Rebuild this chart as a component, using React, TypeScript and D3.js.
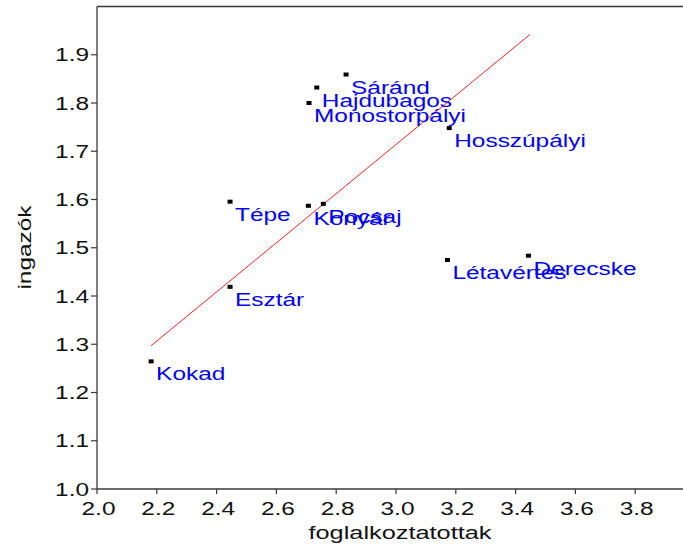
import * as d3 from 'd3';

// settlement names and values (foglalkoztatottak, ingazók)
const names = ["Sáránd", "Hajdubagos", "Monostorpályi", "Hosszúpályi", "Tépe", "Konyár", "Pocsaj", "Esztár", "Kokad", "Létavértes", "Derecske"];
const xValues = [2.833, 2.735, 2.709, 3.178, 2.445, 2.707, 2.757, 2.445, 2.181, 3.172, 3.443];
const yValues = [1.859, 1.832, 1.800, 1.748, 1.5955, 1.587, 1.591, 1.419, 1.2645, 1.4746, 1.4835];

// fitted line end points
const fitX = [2.181, 3.448];
const fitY = [1.297, 1.942];

const xTicks = [2.0, 2.2, 2.4, 2.6, 2.8, 3.0, 3.2, 3.4, 3.6, 3.8];
const yTicks = [1.0, 1.1, 1.2, 1.3, 1.4, 1.5, 1.6, 1.7, 1.8, 1.9];

const W = 683;
const H = 548;
const left = 97;
const top = 6.5;
const bottom = 489;
const font = "'Liberation Sans', Arial, sans-serif";
const fs = 18.5;
const sx = 1.32; // labels are drawn wide

const App = () => {
    const x = d3.scaleLinear().domain([2, 4]).range([left, left + 598]);
    const y = d3.scaleLinear().domain([1, 2]).range([bottom, top]);

    const line = d3.line<number>()
        .x(i => x(fitX[i]))
        .y(i => y(fitY[i]));

    const axisColor = "#3a3a3a";

    return (
        <svg width={W} height={H} style={{ position: 'absolute', left: 0, top: 0, background: '#fff' }}
            fontFamily={font} fontSize={fs}>
            {/* frame */}
            <line x1={left} x2={W} y1={top} y2={top} stroke={axisColor} strokeWidth={1.6} />
            <line x1={left} x2={left} y1={top} y2={bottom} stroke={axisColor} strokeWidth={1.3} />
            <line x1={left} x2={W} y1={bottom} y2={bottom} stroke={axisColor} strokeWidth={1.3} />

            {/* y axis */}
            {yTicks.map(t => (
                <g key={t}>
                    <line x1={left - 6} x2={left} y1={y(t)} y2={y(t)} stroke={axisColor} strokeWidth={1.2} />
                    <text transform={`translate(${left - 8},${y(t) + 6.5}) scale(${sx},1)`} textAnchor="end" fill="#111">
                        {t.toFixed(1)}
                    </text>
                </g>
            ))}

            {/* x axis */}
            {xTicks.map(t => (
                <g key={t}>
                    <line x1={x(t)} x2={x(t)} y1={bottom} y2={bottom + 5} stroke={axisColor} strokeWidth={1.2} />
                    <text transform={`translate(${x(t) + 1.5},${bottom + 26}) scale(${sx},1)`} textAnchor="middle" fill="#111">
                        {t.toFixed(1)}
                    </text>
                </g>
            ))}

            <text transform={`translate(400,539) scale(${sx + 0.05},1)`} textAnchor="middle" fill="#111">foglalkoztatottak</text>
            <text transform={`translate(31,247.5) rotate(-90) scale(${sx},1)`} textAnchor="middle" fill="#111">ingazók</text>

            {/* fitted line */}
            <path d={line([0, 1]) ?? ""} fill="none" stroke="#ff2020" strokeWidth={1} />

            {/* points and labels */}
            {names.map((n, i) => (
                <g key={n}>
                    <rect x={x(xValues[i]) - 2.5} y={y(yValues[i]) - 2} width={5} height={4} fill="#000" />
                    <text transform={`translate(${x(xValues[i]) + 5},${y(yValues[i]) + 19}) scale(${sx},1)`} fill="#0000ff">
                        {n}
                    </text>
                </g>
            ))}
        </svg>
    );
};

export default App;
